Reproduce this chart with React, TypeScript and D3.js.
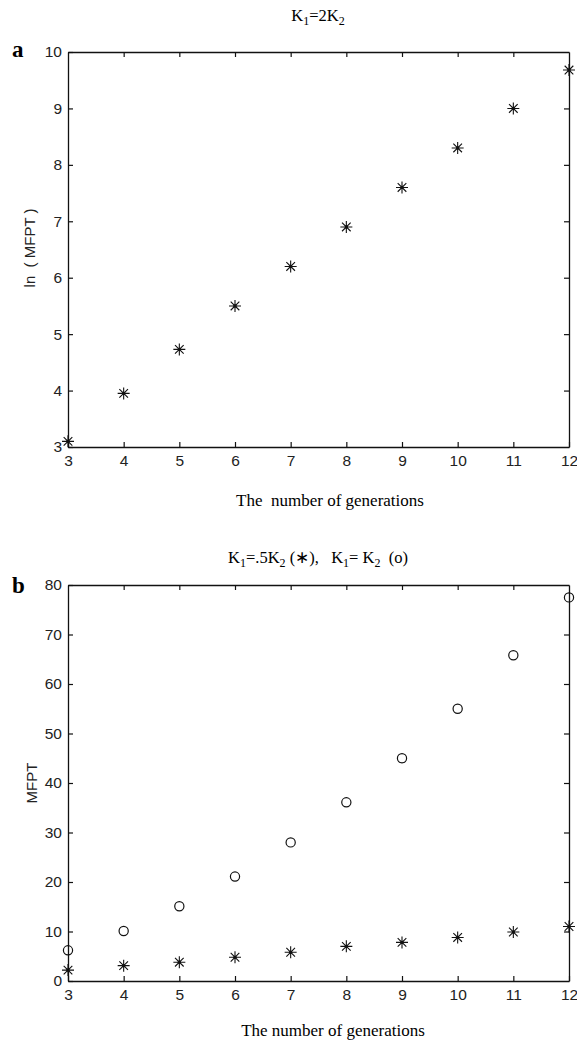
import React, { useRef, useEffect } from "react";
import * as d3 from "d3";

// generations on the x axis (both panels)
const generations = [3, 4, 5, 6, 7, 8, 9, 10, 11, 12];
// panel a: ln(MFPT), K1 = 2K2
const lnMfpt = [3.1, 3.95, 4.73, 5.5, 6.2, 6.9, 7.6, 8.3, 9.0, 9.68];
// panel b: MFPT, K1 = .5K2 (stars) and K1 = K2 (circles)
const mfptHalf = [2.2, 3.1, 3.8, 4.8, 5.8, 7.0, 7.8, 8.8, 9.9, 11.0];
const mfptEqual = [6.2, 10.1, 15.1, 21.1, 28.0, 36.1, 45.0, 55.0, 65.8, 77.5];
const yTicksA = [3, 4, 5, 6, 7, 8, 9, 10];
const yTicksB = [0, 10, 20, 30, 40, 50, 60, 70, 80];

const W = 577;
const H = 1042;
const tickFont = '"Liberation Sans", Arial, sans-serif';
const serif = '"Liberation Serif", "Times New Roman", serif';

const App = () => {
  const plotRef = useRef<SVGGElement>(null);

  useEffect(() => {
    const root = d3.select(plotRef.current);
    root.selectAll("*").remove();

    const drawPanel = (
      top: number,
      bottom: number,
      yDomain: [number, number],
      yTicks: number[],
      series: { values: number[]; marker: string }[]
    ) => {
      const left = 68,
        right = 569;
      const x = d3.scaleLinear().domain([3, 12]).range([left, right]);
      const y = d3.scaleLinear().domain(yDomain).range([bottom, top]);
      const g = root.append("g");
      const fmt = d3.format("d");

      const style = (sel: any) => {
        sel.select(".domain").attr("stroke", "#111").attr("stroke-width", 1.3);
        sel.selectAll(".tick line").attr("stroke", "#111").attr("stroke-width", 1.2);
        sel
          .selectAll("text")
          .attr("font-family", tickFont)
          .attr("font-size", 15.5)
          .attr("fill", "#222");
      };

      // bottom axis with labels
      g.append("g")
        .attr("transform", `translate(0,${bottom})`)
        .call(d3.axisBottom(x).tickValues(generations).tickSize(-5).tickSizeOuter(0).tickPadding(8).tickFormat(fmt))
        .call(style);
      // top axis, ticks only
      g.append("g")
        .attr("transform", `translate(0,${top})`)
        .call(d3.axisTop(x).tickValues(generations.slice(1, -1)).tickSize(-5).tickSizeOuter(0).tickFormat(() => ""))
        .call(style);
      // left axis with labels
      g.append("g")
        .attr("transform", `translate(${left},0)`)
        .call(d3.axisLeft(y).tickValues(yTicks).tickSize(-5).tickSizeOuter(0).tickPadding(6).tickFormat(fmt))
        .call(style);
      // right axis, ticks only
      g.append("g")
        .attr("transform", `translate(${right},0)`)
        .call(d3.axisRight(y).tickValues(yTicks.slice(1, -1)).tickSize(-5).tickSizeOuter(0).tickFormat(() => ""))
        .call(style);

      series.forEach((s) => {
        const pts = g
          .selectAll(null)
          .data(s.values)
          .enter()
          .append("g")
          .attr("transform", (d, i) => `translate(${x(generations[i])},${y(d)})`);
        if (s.marker === "star") {
          const r = 6;
          const a = r * 0.72;
          pts.append("path")
            .attr("d", `M${-r},0H${r}M0,${-r}V${r}M${-a},${-a}L${a},${a}M${-a},${a}L${a},${-a}`)
            .attr("stroke", "#111")
            .attr("stroke-width", 1.1)
            .attr("fill", "none");
          pts.append("circle").attr("r", 1.6).attr("fill", "#111");
        } else {
          pts.append("circle")
            .attr("r", 4.6)
            .attr("fill", "none")
            .attr("stroke", "#111")
            .attr("stroke-width", 1.2);
        }
      });
    };

    drawPanel(52, 447, [3, 10], yTicksA, [{ values: lnMfpt, marker: "star" }]);
    drawPanel(585, 981, [0, 80], yTicksB, [
      { values: mfptEqual, marker: "circle" },
      { values: mfptHalf, marker: "star" },
    ]);
  }, []);

  return (
    <svg
      width={W}
      height={H}
      fontFamily={serif}
      style={{ position: "absolute", left: 0, top: 0, background: "#fff" }}
    >
      <g ref={plotRef} />

      {/* panel a */}
      <text x={12} y={57} fontSize={23} fontWeight="bold">a</text>
      <text x={318} y={21} fontSize={16.5} textAnchor="middle">
        K<tspan fontSize={12} dy={4}>1</tspan>
        <tspan dy={-4}>=2K</tspan>
        <tspan fontSize={12} dy={4}>2</tspan>
      </text>
      <text
        transform="translate(35,248) rotate(-90)"
        textAnchor="middle"
        fontFamily={tickFont}
        fontSize={15}
        fill="#222"
        style={{ whiteSpace: "pre" }}
      >
        {"ln  ( MFPT )"}
      </text>
      <text x={330} y={506} fontSize={17} textAnchor="middle" style={{ whiteSpace: "pre" }}>
        {"The  number of generations"}
      </text>

      {/* panel b */}
      <text x={12} y={593} fontSize={23} fontWeight="bold">b</text>
      <text x={318} y={563} fontSize={16.5} textAnchor="middle" style={{ whiteSpace: "pre" }}>
        K<tspan fontSize={12} dy={4}>1</tspan>
        <tspan dy={-4}>=.5K</tspan>
        <tspan fontSize={12} dy={4}>2</tspan>
        <tspan dy={-4}>{" (\u2217),   K"}</tspan>
        <tspan fontSize={12} dy={4}>1</tspan>
        <tspan dy={-4}>= K</tspan>
        <tspan fontSize={12} dy={4}>2</tspan>
        <tspan dy={-4}>{"  (o)"}</tspan>
      </text>
      <text
        transform="translate(37,783) rotate(-90)"
        textAnchor="middle"
        fontFamily={tickFont}
        fontSize={15}
        fill="#222"
      >
        MFPT
      </text>
      <text x={333} y={1036} fontSize={17} textAnchor="middle">
        The number of generations
      </text>
    </svg>
  );
};

export default App;
